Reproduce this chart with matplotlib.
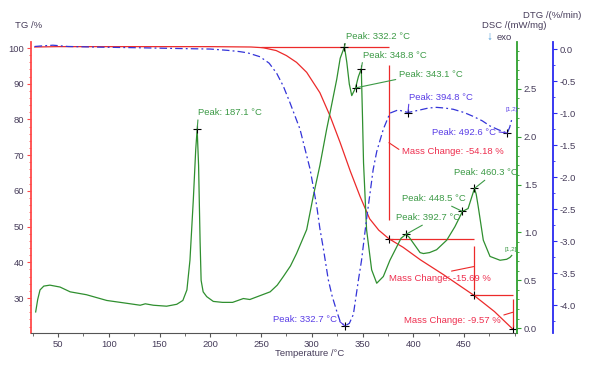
import matplotlib.pyplot as plt
from matplotlib.ticker import MultipleLocator

plt.rcParams['font.family'] = ['Liberation Sans', 'DejaVu Sans']

# TG curve (%)
tg_temp = [27, 50, 100, 150, 200, 240, 252, 265, 275, 285, 295, 308, 318, 328, 338,
           347.5, 357, 366, 376, 390, 407, 430, 459.5, 480, 498]
tg_val = [100.3, 100.4, 100.4, 100.4, 100.4, 100.3, 100.1, 99.3, 97.9, 96.0, 93.2, 87.5,
          81.0, 73.5, 65.5, 58.5, 52.2, 49.0, 46.6, 44.2, 40.7, 36.5, 30.8, 26.2, 21.3]

# DSC curve (mW/mg)
dsc_temp = [28, 30, 32.3, 36, 42, 52, 62, 78, 98, 118, 131, 136, 144, 157, 167, 173, 177,
            180, 183.3, 185.7, 187.1, 188.5, 190, 191, 193, 196.5, 203, 212, 222, 232.6,
            239, 249, 259, 266, 272, 279, 285, 295, 301.5, 308, 314.7, 318, 324.6, 328,
            332.2, 334.5, 337, 339.4, 343.1, 346, 348.8, 350, 351, 354, 359, 364, 370.5,
            377, 383.7, 388, 392.7, 396, 400, 406.7, 410, 416, 423, 433, 441, 448.5, 454,
            457, 460.3, 462, 464, 469, 475.6, 485.5, 492, 495.3, 497]
dsc_val = [0.17, 0.30, 0.40, 0.44, 0.45, 0.43, 0.38, 0.35, 0.29, 0.26, 0.24, 0.255, 0.24,
           0.23, 0.25, 0.29, 0.40, 0.71, 1.34, 1.87, 2.08, 1.70, 0.90, 0.50, 0.38, 0.33,
           0.28, 0.27, 0.27, 0.31, 0.30, 0.34, 0.38, 0.45, 0.54, 0.65, 0.78, 1.03, 1.38,
           1.70, 2.08, 2.25, 2.60, 2.82, 2.94, 2.78, 2.55, 2.43, 2.51, 2.63, 2.71, 2.20,
           1.73, 1.03, 0.61, 0.47, 0.54, 0.71, 0.85, 0.94, 0.98, 0.95, 0.89, 0.79, 0.78,
           0.79, 0.82, 0.92, 1.06, 1.22, 1.25, 1.35, 1.46, 1.40, 1.27, 0.92, 0.75, 0.71,
           0.72, 0.74, 0.76]

# DTG curve (%/min)
dtg_temp = [27, 35, 45, 60, 90, 130, 163, 200, 217, 229, 237, 249, 258, 265.5, 272, 278.6,
            288.4, 298.3, 304.9, 308, 311.4, 316.3, 320, 324.6, 328, 332.7, 337, 341, 346,
            349, 354, 357.4, 360.5, 364, 370.5, 377, 385, 394.8, 406.7, 415, 423, 431,
            439.5, 450, 459, 468, 475.6, 484, 492.6, 495, 497]
dtg_val = [0.04, 0.05, 0.06, 0.04, 0.03, 0.02, 0.01, 0.0, -0.02, -0.04, -0.06, -0.12, -0.22,
           -0.38, -0.58, -0.84, -1.25, -1.87, -2.45, -2.8, -3.11, -3.6, -3.85, -4.09, -4.25,
           -4.32, -4.28, -4.14, -3.6, -3.3, -2.65, -2.25, -1.88, -1.6, -1.25, -1.0, -0.95,
           -0.99, -0.95, -0.92, -0.91, -0.92, -0.94, -0.99, -1.05, -1.12, -1.2, -1.26, -1.31,
           -1.22, -1.1]

dsc_peak_temp = [187.1, 332.2, 348.8, 343.1, 392.7, 448.5, 460.3]
dsc_peak_val = [2.08, 2.94, 2.71, 2.51, 0.98, 1.22, 1.46]
dtg_peak_temp = [332.7, 394.8, 492.6]
dtg_peak_val = [-4.32, -0.99, -1.31]

mass_start = 100.4
mass_temp = [376, 459.5, 498]
mass_level = [46.6, 30.8, 21.3]
mass_change = [-54.18, -15.69, -9.57]

RED = '#ec2a2a'
RED_T = '#ee2f4f'
GREEN = '#2f8f2f'
GREEN_T = '#3c9a46'
BLUE = '#3434d8'
BLUE_T = '#5a3ee6'
DARK = '#463c5a'
FS = 6.8

fig = plt.figure(figsize=(6, 3.68), dpi=100)
ax = fig.add_axes([31 / 600, 35 / 368, 486 / 600, 291 / 368])
ax2 = ax.twinx()
ax3 = ax.twinx()
ax3.spines['right'].set_position(('axes', 1 + 36 / 486))

ax.plot(tg_temp, tg_val, color=RED, lw=0.9)
ax2.plot(dsc_temp, dsc_val, color=GREEN, lw=0.9)
ax3.plot(dtg_temp, dtg_val, color=BLUE, lw=0.9, linestyle=(0, (6, 2.5, 1.5, 2.5)))

ax.set_xlim(23.4, 502.2)
ax.set_ylim(20.2, 101.7)
ax2.set_ylim(-0.05, 2.99)
ax3.set_ylim(-4.43, 0.11)

ax.set_xticks(range(50, 451, 50))
ax.xaxis.set_minor_locator(MultipleLocator(25))
ax.set_yticks(range(30, 101, 10))
ax.yaxis.set_minor_locator(MultipleLocator(2))
ax2.set_yticks([0.0, 0.5, 1.0, 1.5, 2.0, 2.5])
ax2.yaxis.set_minor_locator(MultipleLocator(0.1))
ax3.set_yticks([0.0, -0.5, -1.0, -1.5, -2.0, -2.5, -3.0, -3.5, -4.0])
ax3.yaxis.set_minor_locator(MultipleLocator(0.25))
ax2.yaxis.set_major_formatter(lambda v, p: f'{v:.1f}')
ax3.yaxis.set_major_formatter(lambda v, p: f'{v:.1f}')

for a in (ax, ax2, ax3):
    for s in a.spines.values():
        s.set_visible(False)
ax.spines['left'].set_visible(True)
ax.spines['left'].set_color('#ff4a4a')
ax.spines['left'].set_linewidth(1.3)
ax.spines['bottom'].set_visible(True)
ax.spines['bottom'].set_color('#555555')
ax.spines['bottom'].set_linewidth(0.8)
ax2.spines['right'].set_visible(True)
ax2.spines['right'].set_color('#2ea02e')
ax2.spines['right'].set_linewidth(1.3)
ax3.spines['right'].set_visible(True)
ax3.spines['right'].set_color('#2a2af0')
ax3.spines['right'].set_linewidth(1.3)

ax.tick_params(axis='x', which='major', length=3, color='#555555', labelcolor=DARK,
               labelsize=FS, pad=2)
ax.tick_params(axis='x', which='minor', length=2, color='#555555')
ax.tick_params(axis='y', which='major', length=3, color='#ff4a4a', labelcolor=DARK,
               labelsize=FS, pad=2)
ax.tick_params(axis='y', which='minor', length=1.5, color='#ff4a4a')
ax2.tick_params(axis='y', which='major', length=3, color='#2ea02e', labelcolor=DARK,
                labelsize=FS, pad=2)
ax2.tick_params(axis='y', which='minor', length=1.5, color='#2ea02e')
ax3.tick_params(axis='y', which='major', length=3, color='#2a2af0', labelcolor=DARK,
                labelsize=FS, pad=2)
ax3.tick_params(axis='y', which='minor', length=1.5, color='#2a2af0')

# axis titles
fig.text(15 / 600, 1 - 25 / 368, 'TG /%', fontsize=FS, color=DARK, va='center')
fig.text(310 / 600, 1 - 353 / 368, 'Temperature /°C', fontsize=FS, color=DARK,
         ha='center', va='center')
fig.text(523 / 600, 1 - 15 / 368, 'DTG /(%/min)', fontsize=FS, color=DARK, va='center')
fig.text(482 / 600, 1 - 25 / 368, 'DSC /(mW/mg)', fontsize=FS, color=DARK, va='center')
fig.text(486 / 600, 1 - 37 / 368, '↓', fontsize=8.5, color='#4a9ad8', va='center')
fig.text(497 / 600, 1 - 37 / 368, 'exo', fontsize=FS, color=DARK, va='center')

pt = 0.72  # pixel -> point


def peak(axis, t, v, color, dx, dy, ha, va, rel):
    axis.plot([t], [v], marker='+', color='k', ms=6, mew=0.8)
    axis.annotate(f'Peak: {t} °C', xy=(t, v), xytext=(dx * pt, dy * pt),
                  textcoords='offset points', ha=ha, va=va, color=color, fontsize=FS,
                  arrowprops=dict(arrowstyle='-', color=color, lw=0.8,
                                  shrinkA=0, shrinkB=0, relpos=rel))


dsc_offsets = [(1, 12, 'left', 'bottom', (0, 0)),
               (1.5, 6, 'left', 'bottom', (0, 0)),
               (1.5, 9, 'left', 'bottom', (0, 0)),
               (43, 9, 'left', 'bottom', (0, 0)),
               (-10, 12, 'left', 'bottom', (0.49, 0)),
               (-60, 8, 'left', 'bottom', (0.68, 0)),
               (-20, 11, 'left', 'bottom', (0.53, 0))]
for t, v, o in zip(dsc_peak_temp, dsc_peak_val, dsc_offsets):
    peak(ax2, t, v, GREEN_T, *o)

dtg_offsets = [(-8, 6.7, 'right', 'center', (1, 0.5)),
               (1, 11, 'left', 'bottom', (0, 0)),
               (-11, 0.5, 'right', 'center', (1, 0.6))]
for t, v, o in zip(dtg_peak_temp, dtg_peak_val, dtg_offsets):
    peak(ax3, t, v, BLUE_T, *o)

# mass change steps
levels = [mass_start] + mass_level
starts = [250] + mass_temp[:-1]
for i in range(3):
    ax.hlines(levels[i], starts[i], mass_temp[i], color=RED, lw=0.9)
    ax.plot([mass_temp[i]], [mass_level[i]], marker='+', color='k', ms=6, mew=0.8)
ax.vlines(mass_temp[0], 51.9, 95.2, color=RED, lw=0.9)
ax.vlines(mass_temp[1], 32.2, 44.6, color=RED, lw=0.9)
ax.vlines(mass_temp[2], 21.9, 29.6, color=RED, lw=0.9)

mc_text = [((376, 73.5), (388.6, 71.1), 'left', 'center', (0, 0.5)),
           ((459.5, 38.8), (376.1, 35.5), 'left', 'center', (0.48, 1)),
           ((498, 26.0), (391.2, 23.6), 'left', 'center', (0.95, 0.9))]
for (xy, xt, ha, va, rel), mc in zip(mc_text, mass_change):
    ax.annotate(f'Mass Change: {mc:.2f} %', xy=xy, xytext=xt, ha=ha, va=va,
                color=RED_T, fontsize=FS,
                arrowprops=dict(arrowstyle='-', color=RED, lw=0.8,
                                shrinkA=0, shrinkB=0, relpos=rel))

ax3.text(497, -0.95, '[1,2]', fontsize=4.5, color=BLUE_T, ha='center', va='center')
ax2.text(496, 0.82, '[1,2]', fontsize=4.5, color=GREEN_T, ha='center', va='center')

fig.savefig('out.png', dpi=100)
